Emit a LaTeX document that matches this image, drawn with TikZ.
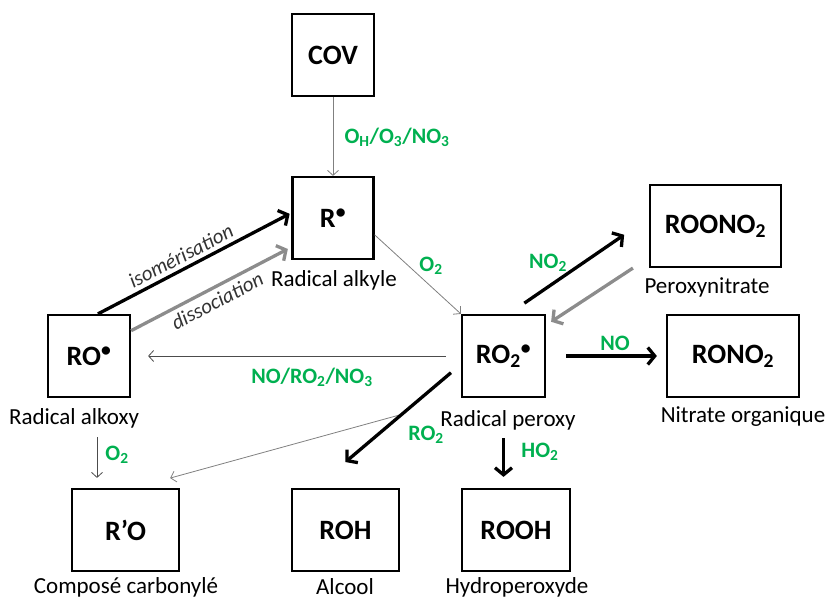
\documentclass[tikz,border=0pt]{standalone}
\usepackage{fontspec}
\setmainfont{Carlito}
\usetikzlibrary{arrows.meta}
\definecolor{reagentgreen}{RGB}{0,176,80}

\begin{document}
\begin{tikzpicture}[x=1pt,y=-1pt]
	\tikzstyle{species}   = [draw=black, line width=2.2pt, inner sep=0pt, minimum height=82pt, font=\fontsize{28}{30}\selectfont\bfseries]
	\tikzstyle{caption}   = [inner sep=0pt, font=\fontsize{23}{25}\selectfont]
	\tikzstyle{reagent}   = [inner sep=0pt, text=reagentgreen, font=\fontsize{22}{24}\selectfont\bfseries]
	\tikzstyle{process}   = [text=black!80, inner sep=4pt, font=\fontsize{21}{23}\selectfont\itshape]
	\tikzstyle{thinflow}  = [draw=black!50, line width=0.8pt, -{Straight Barb[length=5pt,width=11pt]}]
	\tikzstyle{thickflow} = [draw=black, line width=3.3pt, -{Straight Barb[length=7pt,width=17pt]}]

	\useasboundingbox (0,0) rectangle (825,601);

	\foreach \name/\x/\y/\w/\txt in {COV/333/55/82/COV, R/333/218/81/R\textsuperscript{•}, RO/89/356/82/RO\textsuperscript{•}, ROtwo/503.5/356/83/RO\textsubscript{2}\textsuperscript{•}, ROONOtwo/715.5/226/131/ROONO\textsubscript{2}, RONOtwo/733/356/132/RONO\textsubscript{2}, RpO/125.5/530/107/R’O, ROH/345.5/530/107/ROH, ROOH/516/530/108/ROOH}
		\node[species, minimum width=\w pt] (\name) at (\x,\y) {\txt};

	\foreach \txt/\x/\y [count=\i] in {Radical alkyle/334/280, Peroxynitrate/707/287, Radical alkoxy/74/418, Radical peroxy/508/420, Nitrate organique/743/417, Composé carbonylé/126/587, Alcool/345/587, Hydroperoxyde/517/587}
		\node[caption] (caption\i) at (\x,\y) {\txt};

	% reagents
	\node[reagent] (oxidants) at (397,137) {O\textsubscript{H}/O\textsubscript{3}/NO\textsubscript{3}};
	\node[reagent] (oxygenR) at (431,266) {O\textsubscript{2}};
	\node[reagent] (nitrogendioxide) at (548,263) {NO\textsubscript{2}};
	\node[reagent] (nitrogenoxide) at (615,343) {NO};
	\node[reagent] (reductants) at (312,377) {NO/RO\textsubscript{2}/NO\textsubscript{3}};
	\node[reagent] (oxygenRO) at (117,455) {O\textsubscript{2}};
	\node[reagent] (peroxyl) at (426,435) {RO\textsubscript{2}};
	\node[reagent] (hydroperoxyl) at (540,452) {HO\textsubscript{2}};

	% thin arrows
	\draw[thinflow] (COV) -- (R);
	\draw[thinflow] (R.-22) -- (ROtwo.north west);
	\draw[thinflow, draw=black!70, shorten <=15pt, shorten >=17pt] (ROtwo.west) -- (RO.east);
	\draw[thinflow, shorten <=62pt, shorten >=37pt] (ROtwo.south west) -- (RpO.78);
	\draw[thinflow, draw=black!70, shorten <=39pt, shorten >=10pt] ([xshift=8pt]RO.south) -- ([xshift=8pt]RO.south |- RpO.north);

	% thick arrows
	\draw[thickflow, shorten >=2pt] (RO.78) -- node[process, above, sloped, pos=0.46] {isomérisation} (R.173);
	\draw[thickflow, draw=black!45, shorten >=4pt] (RO.31) -- node[process, below, sloped, pos=0.5] {dissociation} (R.215);
	\draw[thickflow, shorten <=19pt, shorten >=30pt] (ROtwo.83) -- (ROONOtwo.173);
	\draw[thickflow, draw=black!45, shorten >=6pt] ([xshift=-16pt]ROONOtwo.south west) -- (ROtwo.36);
	\draw[thickflow, shorten <=20pt, shorten >=9pt] (ROtwo.east) -- (RONOtwo.west);
	\draw[thickflow, shorten <=13pt, shorten >=40pt] (ROtwo.191) -- (ROH.126);
	\draw[thickflow, shorten <=40pt, shorten >=11pt] (ROtwo.south) -- (ROtwo.south |- ROOH.north);
\end{tikzpicture}
\end{document}
